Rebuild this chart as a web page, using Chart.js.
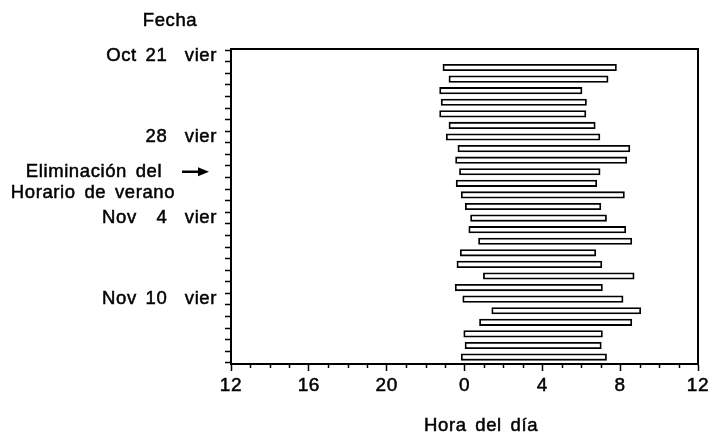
<!DOCTYPE html>
<html>
<head>
<meta charset="utf-8">
<script src="https://cdn.jsdelivr.net/npm/chart.js@4.4.1/dist/chart.umd.min.js"></script>
<style>
  html, body { margin: 0; padding: 0; background: #fff; }
</style>
</head>
<body>
<canvas id="sleepChart" width="712" height="435"></canvas>
<script>
// nights, counted in days after Oct 21 (vier)
var dayIndex = [1, 2, 3, 4, 5, 6, 7, 8, 9, 10, 11, 12, 13, 14, 15, 16, 17, 18, 19, 20, 21, 22, 23, 24, 25, 26];
// hours relative to midnight (negative = before 0 h)
var sleepStart = [-1.11, -0.80, -1.28, -1.20, -1.28, -0.80, -0.94, -0.34, -0.46, -0.26, -0.43, -0.17, 0.04,
                  0.31, 0.22, 0.72, -0.22, -0.39, 0.97, -0.48, -0.09, 1.40, 0.77, -0.04, 0.00, -0.17];
var sleepEnd = [7.81, 7.38, 6.04, 6.27, 6.24, 6.72, 6.96, 8.50, 8.34, 6.97, 6.80, 8.22, 7.01,
                7.30, 8.29, 8.60, 6.75, 7.06, 8.72, 7.09, 8.15, 9.06, 8.60, 7.09, 7.03, 7.30];
var yLabelDays = [0, 7, 14, 21];
var yLabelTexts = ["Oct 21  vier", "28  vier", "Nov \u20074  vier", "Nov 10  vier"];
var xTickHours = [-12, -8, -4, 0, 4, 8, 12];
var dstDay = 10;

var FONT = '"Liberation Sans", Arial, Helvetica, sans-serif';
var FSIZE = 18.5;

var bars = dayIndex.map(function (d, i) {
  return { x: [sleepStart[i], sleepEnd[i]], y: d };
});

// wider, slightly heavier lettering like the print
function setSpacing(ctx) {
  ctx.letterSpacing = "0.6px";
  ctx.wordSpacing = "3px";
}

var extras = {
  id: "extras",
  beforeDraw: function (chart) {
    setSpacing(chart.ctx);
  },
  afterDraw: function (chart) {
    var ctx = chart.ctx;
    var a = chart.chartArea;
    var xs = chart.scales.x;
    var ys = chart.scales.y;
    ctx.save();
    ctx.strokeStyle = "#000";
    ctx.lineWidth = 2;
    ctx.beginPath();
    ctx.moveTo(a.left, a.top);
    ctx.lineTo(a.right, a.top);
    ctx.lineTo(a.right, a.bottom);
    ctx.stroke();

    // minor hour ticks
    ctx.lineWidth = 1.5;
    for (var h = -12; h <= 12; h++) {
      if (xTickHours.indexOf(h) >= 0) continue;
      var px = Math.round(xs.getPixelForValue(h)) + 0.5;
      ctx.beginPath();
      ctx.moveTo(px, a.bottom);
      ctx.lineTo(px, a.bottom + 4);
      ctx.stroke();
    }

    setSpacing(ctx);
    ctx.fillStyle = "#000";
    ctx.lineWidth = 0.5;
    ctx.font = FSIZE + "px " + FONT;
    ctx.textBaseline = "middle";
    ctx.textAlign = "center";
    var yd = ys.getPixelForValue(dstDay);
    var texts = [
      ["Fecha", 170, 21],
      ["Hora del día", xs.getPixelForValue(0.85), 426],
      ["Eliminación del", 94, yd],
      ["Horario de verano", 93, yd + 21]
    ];
    texts.forEach(function (t) {
      ctx.fillText(t[0], t[1], t[2]);
      ctx.strokeText(t[0], t[1], t[2]);
    });

    // arrow
    ctx.lineWidth = 2.5;
    ctx.beginPath();
    ctx.moveTo(182, yd);
    ctx.lineTo(200, yd);
    ctx.stroke();
    ctx.beginPath();
    ctx.moveTo(209, yd);
    ctx.lineTo(198, yd - 4.5);
    ctx.lineTo(198, yd + 4.5);
    ctx.closePath();
    ctx.fill();
    ctx.restore();
  }
};

new Chart(document.getElementById("sleepChart"), {
  type: "bar",
  data: {
    datasets: [{
      data: bars,
      backgroundColor: "#fff",
      borderColor: "#000",
      borderWidth: 1.8,
      borderSkipped: false,
      barThickness: 6.5
    }]
  },
  options: {
    indexAxis: "y",
    responsive: false,
    animation: false,
    devicePixelRatio: 1,
    layout: { padding: { top: 49, right: 14, left: 0, bottom: 0 } },
    plugins: { legend: { display: false }, tooltip: { enabled: false } },
    scales: {
      x: {
        type: "linear",
        min: -12,
        max: 12,
        afterFit: function (s) { s.height = 71; },
        border: { display: true, color: "#000", width: 2 },
        grid: {
          drawOnChartArea: false,
          tickLength: 7,
          tickWidth: 1.5,
          tickColor: function (c) {
            return xTickHours.indexOf(c.tick.value) >= 0 ? "#000" : "rgba(0,0,0,0)";
          }
        },
        ticks: {
          stepSize: 1,
          autoSkip: false,
          maxRotation: 0,
          padding: 3,
          color: "#000",
          textStrokeColor: "#000",
          textStrokeWidth: 0.5,
          font: { family: FONT, size: 19 },
          callback: function (v) {
            return xTickHours.indexOf(v) >= 0 ? String((v + 24) % 24) : "";
          }
        }
      },
      y: {
        type: "linear",
        reverse: true,
        offset: false,
        min: -0.6,
        max: 26.6,
        afterFit: function (s) { s.width = 231; },
        border: { display: true, color: "#000", width: 2 },
        grid: { drawOnChartArea: false, tickLength: 6, tickWidth: 1.5, tickColor: "#000" },
        ticks: {
          stepSize: 1,
          includeBounds: false,
          autoSkip: false,
          padding: 8,
          color: "#000",
          textStrokeColor: "#000",
          textStrokeWidth: 0.5,
          font: { family: FONT, size: FSIZE },
          callback: function (v) {
            var k = yLabelDays.indexOf(v);
            return k >= 0 ? yLabelTexts[k] : "";
          }
        }
      }
    }
  },
  plugins: [extras]
});
</script>
</body>
</html>
